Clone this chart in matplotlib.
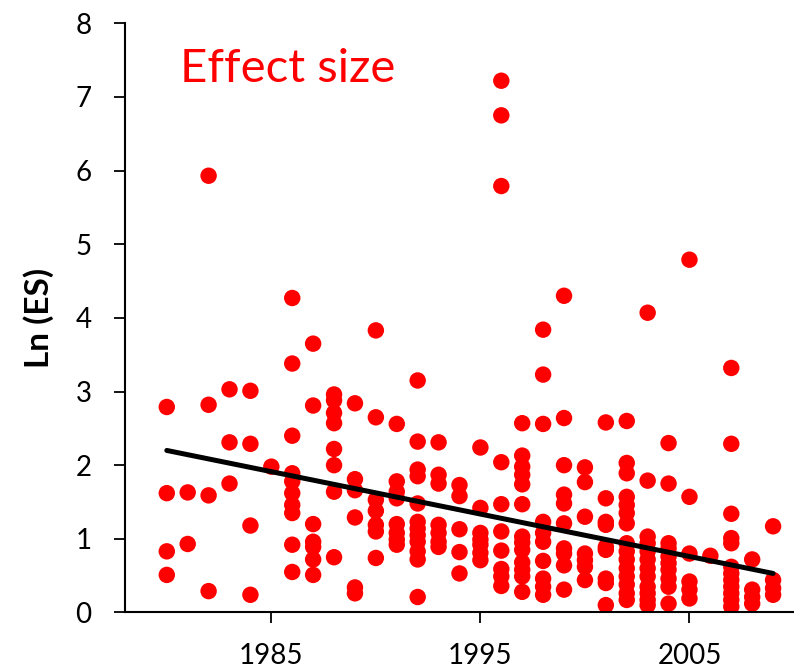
import matplotlib
matplotlib.use("Agg")
import matplotlib.pyplot as plt

# Ln(ES) values per publication year
values_by_year = {
    1980: [2.79, 1.62, 0.83, 0.51],
    1981: [1.63, 0.93],
    1982: [5.93, 2.82, 1.59, 0.29],
    1983: [3.03, 2.31, 1.75],
    1984: [3.01, 2.29, 1.18, 0.24],
    1985: [1.98],
    1986: [4.27, 3.38, 2.40, 1.89, 1.78, 1.62, 1.46, 1.35, 0.92, 0.55],
    1987: [3.65, 2.81, 1.20, 0.96, 0.89, 0.72, 0.51],
    1988: [2.96, 2.88, 2.71, 2.57, 2.22, 2.00, 1.64, 0.75],
    1989: [2.84, 1.81, 1.66, 1.29, 0.34, 0.26],
    1990: [3.83, 2.65, 1.53, 1.38, 1.19, 1.10, 0.74],
    1991: [2.56, 1.78, 1.64, 1.55, 1.20, 1.08, 0.99, 0.92],
    1992: [3.15, 2.32, 1.94, 1.85, 1.48, 1.23, 1.14, 1.05, 0.96, 0.83, 0.72, 0.21],
    1993: [2.31, 1.87, 1.75, 1.19, 1.08, 0.96, 0.89],
    1994: [1.73, 1.58, 1.13, 0.82, 0.53],
    1995: [2.24, 1.42, 1.08, 0.99, 0.92, 0.81, 0.71],
    1996: [7.22, 6.75, 5.79, 2.04, 1.47, 1.10, 0.84, 0.59, 0.49, 0.36],
    1997: [2.57, 2.13, 1.98, 1.87, 1.74, 1.47, 1.03, 0.95, 0.85, 0.68, 0.58, 0.49, 0.28],
    1998: [3.84, 3.23, 2.56, 1.23, 1.08, 0.96, 0.70, 0.46, 0.35, 0.24],
    1999: [4.30, 2.64, 2.00, 1.60, 1.48, 1.21, 0.87, 0.80, 0.64, 0.31],
    2000: [1.97, 1.77, 1.30, 0.80, 0.71, 0.62, 0.44],
    2001: [2.58, 1.55, 1.23, 1.19, 0.89, 0.85, 0.46, 0.40, 0.10],
    2002: [2.60, 2.03, 1.89, 1.57, 1.46, 1.35, 1.21, 0.94, 0.83, 0.72, 0.60, 0.49, 0.38, 0.26, 0.17],
    2003: [4.07, 1.79, 1.03, 0.94, 0.83, 0.72, 0.60, 0.49, 0.35, 0.26, 0.17, 0.10],
    2004: [2.30, 1.75, 0.94, 0.87, 0.76, 0.67, 0.58, 0.46, 0.35, 0.12],
    2005: [4.79, 1.57, 0.80, 0.42, 0.31, 0.19],
    2006: [0.77],
    2007: [3.32, 2.29, 1.34, 1.01, 0.94, 0.62, 0.53, 0.44, 0.35, 0.26, 0.17, 0.08],
    2008: [0.72, 0.31, 0.21, 0.12],
    2009: [1.17, 0.44, 0.33, 0.24],
}

# trend line endpoints
trend_years = [1980, 2009]
trend_values = [2.20, 0.53]

xtick_labels = [1985, 1995, 2005]
ytick_values = [0, 1, 2, 3, 4, 5, 6, 7, 8]

years = [y for y, vals in values_by_year.items() for _ in vals]
values = [v for vals in values_by_year.values() for v in vals]

plt.rcParams['font.family'] = ['Lato', 'DejaVu Sans']

fig = plt.figure(figsize=(7.94, 6.69), dpi=100)
ax = fig.add_axes([0.1574, 0.0845, 0.8426, 0.8807])

ax.scatter(years, values, s=140, color='#ff0000', edgecolors='none', zorder=2)
ax.plot(trend_years, trend_values, color='black', linewidth=3.6, zorder=3,
        solid_capstyle='round')

ax.set_xlim(1978, 2010)
ax.set_ylim(0, 8)
ax.set_xticks(xtick_labels)
ax.set_xticklabels([str(t) for t in xtick_labels])
ax.set_yticks(ytick_values)

for s in ['top', 'right']:
    ax.spines[s].set_visible(False)
for s in ['left', 'bottom']:
    ax.spines[s].set_linewidth(1.5)
    ax.spines[s].set_color('black')
    ax.spines[s].set_clip_on(False)

ax.tick_params(axis='both', direction='out', length=8, width=1.3,
               labelsize=20, colors='black')
ax.tick_params(axis='x', pad=14)
ax.tick_params(axis='y', pad=16)

ax.set_ylabel('Ln (ES)', fontsize=24, fontweight='bold')
ax.yaxis.set_label_coords(-0.106, 0.5)
ax.text(0.082, 0.922, 'Effect size', transform=ax.transAxes, color='#ff0000',
        fontsize=34, ha='left', va='center')

fig.savefig('out.png', dpi=100)
